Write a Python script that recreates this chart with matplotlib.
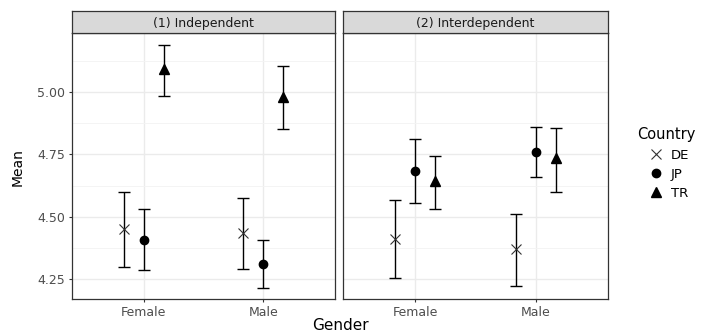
import numpy as np
import matplotlib
matplotlib.use("Agg")
import matplotlib.pyplot as plt
from matplotlib.lines import Line2D

plt.rcParams['font.family'] = ['DejaVu Sans']

genders = ["Female", "Male"]
countries = ["DE", "JP", "TR"]
panels = ["(1) Independent", "(2) Interdependent"]

# means and CI bounds, [panel][country][gender]
means = {
    "(1) Independent": {"DE": [4.451, 4.435], "JP": [4.408, 4.313], "TR": [5.090, 4.980]},
    "(2) Interdependent": {"DE": [4.413, 4.371], "JP": [4.683, 4.761], "TR": [4.643, 4.734]},
}
upper = {
    "(1) Independent": {"DE": [4.601, 4.575], "JP": [4.531, 4.409], "TR": [5.187, 5.104]},
    "(2) Interdependent": {"DE": [4.568, 4.513], "JP": [4.810, 4.861], "TR": [4.745, 4.857]},
}
lower = {
    "(1) Independent": {"DE": [4.301, 4.291], "JP": [4.287, 4.217], "TR": [4.985, 4.852]},
    "(2) Interdependent": {"DE": [4.255, 4.223], "JP": [4.555, 4.661], "TR": [4.533, 4.601]},
}

markers = {"DE": "x", "JP": "o", "TR": "^"}
msizes = {"DE": 7, "JP": 6, "TR": 7}
offsets = {"DE": -0.167, "JP": 0.0, "TR": 0.167}

fig = plt.figure(figsize=(7.04, 3.36), dpi=100)
W, H = 704.0, 336.0
pan_x = [(72, 335), (343, 608)]
top_px, bot_px, strip_top = 33, 299, 11

tick_col = "#4D4D4D"
for i, p in enumerate(panels):
    x0, x1 = pan_x[i]
    ax = fig.add_axes([x0 / W, 1 - bot_px / H, (x1 - x0) / W, (bot_px - top_px) / H])
    ax.set_xlim(0.4, 2.6)
    ax.set_ylim(4.171, 5.235)
    ax.set_yticks([4.25, 4.50, 4.75, 5.00])
    ax.set_yticks([4.375, 4.625, 4.875, 5.125], minor=True)
    ax.set_xticks([1, 2])
    ax.set_xticklabels(genders)
    ax.grid(True, which="major", color="#EBEBEB", lw=1.0)
    ax.grid(True, which="minor", axis="y", color="#F3F3F3", lw=0.6)
    ax.set_axisbelow(True)
    for s in ax.spines.values():
        s.set_color("#333333")
        s.set_linewidth(0.9)
    ax.tick_params(axis="both", which="both", length=2.5, color="#333333",
                   labelcolor=tick_col, labelsize=9, pad=2.5)
    ax.tick_params(axis="y", which="minor", length=0)
    if i == 0:
        ax.set_yticklabels(["4.25", "4.50", "4.75", "5.00"])
    else:
        ax.tick_params(axis="y", which="both", left=False, labelleft=False)
    xs = np.arange(1, len(genders) + 1)
    for c in countries:
        m = np.array(means[p][c])
        lo = np.array(lower[p][c])
        hi = np.array(upper[p][c])
        ax.errorbar(xs + offsets[c], m, yerr=[m - lo, hi - m], fmt="none",
                    ecolor="black", elinewidth=1.0, capsize=4.5, capthick=1.0)
        if c == "DE":
            ax.plot(xs + offsets[c], m, ls="none", marker="x", ms=msizes[c],
                    mew=0.8, color="#333333")
        else:
            ax.plot(xs + offsets[c], m, ls="none", marker=markers[c],
                    ms=msizes[c], color="black")
    # strip
    sax = fig.add_axes([x0 / W, 1 - top_px / H, (x1 - x0) / W, (top_px - strip_top) / H])
    sax.set_facecolor("#D9D9D9")
    sax.set_xticks([])
    sax.set_yticks([])
    for s in sax.spines.values():
        s.set_color("#333333")
        s.set_linewidth(0.9)
    sax.text(0.5, 0.45, p, ha="center", va="center", fontsize=9, color="#1A1A1A",
             transform=sax.transAxes)

fig.text(340 / W, 1 - 326 / H, "Gender", ha="center", va="center", fontsize=11)
fig.text(18 / W, 1 - 167 / H, "Mean", ha="center", va="center", fontsize=10,
         rotation=90)

# legend: title as separate text, entries indented under it
fig.text(637 / W, 1 - 135 / H, "Country", ha="left", va="center", fontsize=10.5)
handles = []
for c in countries:
    if c == "DE":
        handles.append(Line2D([], [], ls="none", marker="x", ms=7, mew=0.8,
                              color="#333333", label=c))
    else:
        handles.append(Line2D([], [], ls="none", marker=markers[c], ms=msizes[c],
                              color="black", label=c))
leg = fig.legend(handles=handles, loc="center left",
                 bbox_to_anchor=(639 / W, 1 - 174.5 / H), frameon=False,
                 fontsize=9.5, handlelength=1.0, borderpad=0.3,
                 handletextpad=0.6, labelspacing=0.45)

fig.savefig("out.png", dpi=100)
